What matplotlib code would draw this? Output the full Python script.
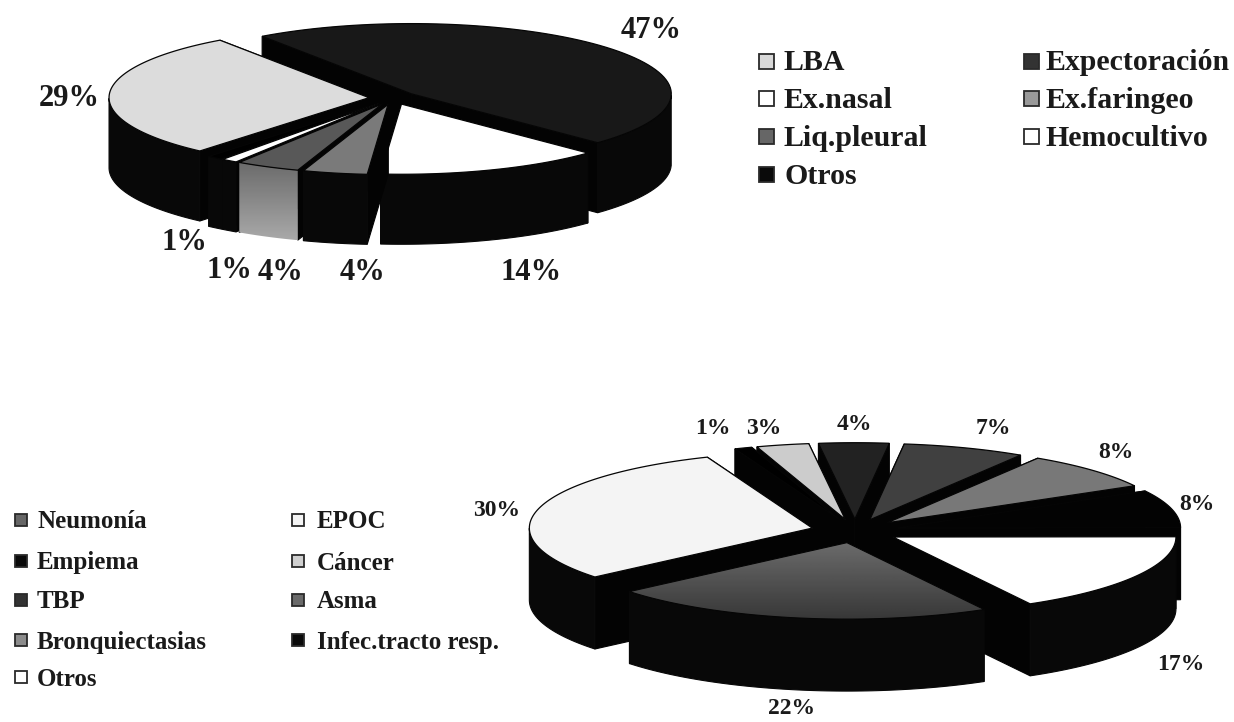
import numpy as np
import matplotlib
matplotlib.use('Agg')
import matplotlib.pyplot as plt
from matplotlib.patches import Polygon, Rectangle

# Muestras
muestras = ['LBA', 'Expectoración', 'Ex.nasal', 'Ex.faringeo', 'Liq.pleural', 'Hemocultivo', 'Otros']
muestras_pct = [29, 47, 14, 4, 4, 1, 1]
muestras_top = ['#dcdcdc', '#181818', '#ffffff', '#7a7a7a', '#585858', '#ffffff', '#000000']
muestras_leg = ['#d8d8d8', '#333333', '#ffffff', '#999999', '#666666', '#ffffff', '#0a0a0a']

# Enfermedades
enfermedades = ['Neumonía', 'EPOC', 'Empiema', 'Cáncer', 'TBP', 'Asma', 'Bronquiectasias',
                'Infec.tracto resp.', 'Otros']
enfermedades_pct = [22, 30, 1, 3, 4, 7, 8, 8, 17]
enfermedades_top = ['#5a5a5a', '#f4f4f4', '#000000', '#cccccc', '#222222', '#404040', '#787878',
                    '#030303', '#ffffff']
enfermedades_leg = ['#666666', '#f4f4f4', '#0a0a0a', '#d0d0d0', '#333333', '#6a6a6a', '#8c8c8c',
                    '#0a0a0a', '#ffffff']

SERIF = 'Liberation Serif'
TEXT = '#1a1a1a'

fig = plt.figure(figsize=(12.34, 7.22), dpi=100)
ax = fig.add_axes([0, 0, 1, 1])


def gradient(poly, z, v0, v1):
    # vertical grey ramp clipped to a polygon
    ymin, ymax = poly[:, 1].min(), poly[:, 1].max()
    xmin, xmax = poly[:, 0].min(), poly[:, 0].max()
    im = ax.imshow(np.linspace(v0, v1, 64).reshape(-1, 1), cmap='gray', vmin=0, vmax=1,
                   extent=(xmin, xmax, ymax, ymin), aspect='auto', zorder=z)
    im.set_clip_path(Polygon(poly, transform=ax.transData))


def pie3d(values, colors, start, cx, cy, r, k, explode, depth, wall_ramp={}, top_ramp={}):
    fracs = np.array(values) / sum(values) * 360
    a0 = start + np.concatenate([[0], np.cumsum(fracs)[:-1]])
    mid = a0 + fracs / 2
    order = np.argsort(-np.cos(np.radians(mid)))
    z = 2
    for i in order:
        m = np.radians(mid[i])
        ox = cx + explode * np.sin(m)
        oy = cy - explode * np.cos(m) * k
        t = np.radians(np.linspace(a0[i], a0[i] + fracs[i], 80))
        arc = np.column_stack([ox + r * np.sin(t), oy - r * k * np.cos(t)])
        apex = np.array([ox, oy])
        down = np.array([0, depth])

        # cut faces, then the outer wall on the part that faces front
        for p in (arc[0], arc[-1]):
            ax.add_patch(Polygon([apex, p, p + down, apex + down], fc='#030303', ec='#030303',
                                 lw=0.8, zorder=z))
            z += 1
        front = np.cos(t) < 0.0
        if front.any():
            a = arc[front]
            wall = np.vstack([a, (a + down)[::-1]])
            if i in wall_ramp:
                gradient(wall, z, *wall_ramp[i])
            else:
                ax.add_patch(Polygon(wall, fc='#080808', ec='#080808', lw=0.8, zorder=z))
            z += 1

        top = np.vstack([apex, arc])
        if i in top_ramp:
            gradient(top, z, *top_ramp[i])
            z += 1
            ax.add_patch(Polygon(top, fc='none', ec='#050505', lw=0.8, zorder=z))
        else:
            ax.add_patch(Polygon(top, fc=colors[i], ec='#050505', lw=0.9, zorder=z))
        z += 1


def pct_labels(values, xy, size):
    for v, (x, y) in zip(values, xy):
        ax.text(x, y, f'{v}%', family=SERIF, weight='bold', fontsize=size, color=TEXT,
                ha='center', va='center', zorder=200)


def legend(names, colors, cols, rows, size, box):
    # filled row by row over the two columns
    for i, (name, c) in enumerate(zip(names, colors)):
        sx, tx = cols[i % 2]
        y = rows[i // 2]
        ax.add_patch(Rectangle((sx - box / 2, y - box / 2), box, box, fc=c, ec='#2a2a2a',
                               lw=1.3, zorder=200))
        ax.text(tx, y + 2, name, family=SERIF, weight='bold', fontsize=size, color=TEXT,
                ha='left', va='center', zorder=200)


pie3d(muestras_pct, muestras_top, 220.6, 393, 98, 260, 0.27, 24, 70,
      wall_ramp={4: (0.42, 0.66)})
pct_labels(muestras_pct,
           [(69, 99), (651, 30), (531, 272), (362, 272), (281, 272), (229, 270), (184, 242)], 22)
legend(muestras, muestras_leg, [(766, 784), (1031, 1046)], [61, 98, 136, 174], 21.5, 15)

pie3d(enfermedades_pct, enfermedades_top, 151, 855, 531, 283, 0.27, 44, 72,
      top_ramp={0: (0.42, 0.22)})
pct_labels(enfermedades_pct,
           [(792, 708), (497, 510), (713, 428), (764, 428), (854, 425), (993, 429), (1116, 453),
            (1197, 504), (1181, 664)], 17)
legend(enfermedades, enfermedades_leg, [(21, 37), (298, 317)], [520, 561, 600, 640, 677], 18, 12)

ax.set_xlim(0, 1234)
ax.set_ylim(722, 0)
ax.axis('off')
fig.savefig('out.png', dpi=100)
